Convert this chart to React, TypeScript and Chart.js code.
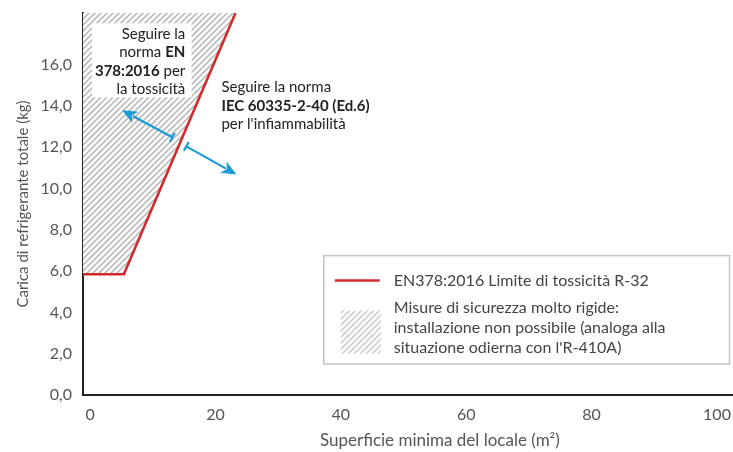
import React, { useEffect, useRef } from "react";
import { Chart, registerables } from "chart.js";

Chart.register(...registerables);

// ---- data ----
const X_MIN = -1.12;
const X_MAX = 102.55;
const Y_MIN = 0;
const Y_MAX = 18.5;
const xTickValues = [0, 20, 40, 60, 80, 100];
const yTickValues = [0, 2, 4, 6, 8, 10, 12, 14, 16];
const limitX = [X_MIN, 5.4, 23.2];
const limitY = [5.85, 5.85, 18.5];

const seriesLabel = "EN378:2016 Limite di tossicità R-32";
const hatchLabel = [
  "Misure di sicurezza molto rigide:",
  "installazione non possibile (analoga alla",
  "situazione odierna con l'R-410A)",
];
const xTitle = "Superficie minima del locale (m²)";
const yTitle = "Carica di refrigerante totale (kg)";

type Part = { t: string; b?: boolean };
const note1: Part[][] = [
  [{ t: "Seguire la" }],
  [{ t: "norma " }, { t: "EN", b: true }],
  [{ t: "378:2016", b: true }, { t: " per" }],
  [{ t: "la tossicità" }],
];
const note2: Part[][] = [
  [{ t: "Seguire la norma" }],
  [{ t: "IEC 60335-2-40 (Ed.6)", b: true }],
  [{ t: "per l'infiammabilità" }],
];

const FONT = "Lato, 'Open Sans', sans-serif";
const RED = "#d42a2c";
const BLUE = "#1b9ad8";

function makePattern(color: string): CanvasPattern | string {
  const c = document.createElement("canvas");
  c.width = 6;
  c.height = 6;
  const g = c.getContext("2d");
  if (!g) return "#ddd";
  g.fillStyle = "#ffffff";
  g.fillRect(0, 0, 6, 6);
  g.strokeStyle = color;
  g.lineWidth = 1.7;
  g.beginPath();
  g.moveTo(-1, 7);
  g.lineTo(7, -1);
  g.moveTo(-4, 4);
  g.lineTo(4, -4);
  g.moveTo(2, 10);
  g.lineTo(10, 2);
  g.stroke();
  const p = g.createPattern(c, "repeat");
  return p || "#ddd";
}

function drawRich(
  ctx: CanvasRenderingContext2D,
  parts: Part[],
  x: number,
  y: number,
  align: "left" | "right",
  size: number,
  color: string
) {
  ctx.save();
  ctx.textBaseline = "middle";
  ctx.textAlign = "left";
  ctx.fillStyle = color;
  const fonts = parts.map((p) => `${p.b ? "bold " : ""}${size}px ${FONT}`);
  const widths = parts.map((p, i) => {
    ctx.font = fonts[i];
    return ctx.measureText(p.t).width;
  });
  const total = widths.reduce((a, b) => a + b, 0);
  let cx = align === "right" ? x - total : x;
  parts.forEach((p, i) => {
    ctx.font = fonts[i];
    ctx.fillText(p.t, cx, y);
    cx += widths[i];
  });
  ctx.restore();
}

function drawArrow(
  ctx: CanvasRenderingContext2D,
  x1: number,
  y1: number,
  x2: number,
  y2: number
) {
  const dx = x2 - x1;
  const dy = y2 - y1;
  const len = Math.hypot(dx, dy);
  const ux = dx / len;
  const uy = dy / len;
  const px = -uy;
  const py = ux;
  const headL = 15;
  const headW = 6.5;
  ctx.save();
  ctx.strokeStyle = BLUE;
  ctx.fillStyle = BLUE;
  ctx.lineWidth = 2.2;
  ctx.lineCap = "butt";
  ctx.beginPath();
  ctx.moveTo(x1 + px * 5, y1 + py * 5);
  ctx.lineTo(x1 - px * 5, y1 - py * 5);
  ctx.stroke();
  ctx.beginPath();
  ctx.moveTo(x1, y1);
  ctx.lineTo(x2 - ux * (headL - 3), y2 - uy * (headL - 3));
  ctx.stroke();
  const bx = x2 - ux * headL;
  const by = y2 - uy * headL;
  ctx.beginPath();
  ctx.moveTo(x2, y2);
  ctx.lineTo(bx + px * headW, by + py * headW);
  ctx.lineTo(x2 - ux * (headL - 4), y2 - uy * (headL - 4));
  ctx.lineTo(bx - px * headW, by - py * headW);
  ctx.closePath();
  ctx.fill();
  ctx.restore();
}

export default function App() {
  const ref = useRef<HTMLCanvasElement>(null);

  useEffect(() => {
    if (!ref.current) return;
    const hatch = makePattern("#bdbdbd");
    const hatchLight = makePattern("#cfcfcf");

    const annotations = {
      id: "annotations",
      afterDraw(chart: any) {
        const ctx: CanvasRenderingContext2D = chart.ctx;
        const xs = chart.scales.x;
        const ys = chart.scales.y;
        const X = (v: number) => xs.getPixelForValue(v);
        const Y = (v: number) => ys.getPixelForValue(v);

        ctx.save();
        ctx.fillStyle = "#ffffff";
        const bx0 = X(0.32);
        const bx1 = X(16.2);
        const by0 = Y(18.0);
        const by1 = Y(14.42);
        ctx.fillRect(bx0, by0, bx1 - bx0, by1 - by0);
        ctx.restore();

        const tx1 = X(15.2);
        const ty1 = Y(17.48);
        note1.forEach((line, i) =>
          drawRich(ctx, line, tx1, ty1 + i * 18.4, "right", 15, "#222")
        );
        const tx2 = X(20.96);
        const ty2 = Y(14.9);
        note2.forEach((line, i) =>
          drawRich(ctx, line, tx2, ty2 + i * 18.4, "left", 15, "#222")
        );

        drawArrow(ctx, X(13.12), Y(12.48), X(5.12), Y(13.79));
        drawArrow(ctx, X(15.36), Y(12.04), X(23.36), Y(10.68));

        // x axis title (offset to the right as in the original)
        ctx.save();
        ctx.fillStyle = "#555";
        ctx.font = `17px ${FONT}`;
        ctx.textAlign = "center";
        ctx.textBaseline = "middle";
        ctx.fillText(xTitle, X(55.8), chart.chartArea.bottom + 46);
        ctx.restore();

        // legend
        const lx0 = X(37.28);
        const lx1 = X(102.0);
        const ly0 = Y(6.75);
        const ly1 = Y(1.5);
        ctx.save();
        ctx.fillStyle = "#ffffff";
        ctx.fillRect(lx0, ly0, lx1 - lx0, ly1 - ly0);
        ctx.strokeStyle = "#c8c4bc";
        ctx.lineWidth = 1.5;
        ctx.strokeRect(lx0, ly0, lx1 - lx0, ly1 - ly0);

        ctx.strokeStyle = RED;
        ctx.lineWidth = 2.5;
        ctx.beginPath();
        ctx.moveTo(lx0 + 11, ly0 + 25);
        ctx.lineTo(lx0 + 56, ly0 + 25);
        ctx.stroke();

        ctx.fillStyle = "#444";
        ctx.font = `16px ${FONT}`;
        ctx.textBaseline = "middle";
        ctx.textAlign = "left";
        ctx.fillText(seriesLabel, lx0 + 70, ly0 + 25);

        ctx.fillStyle = hatchLight as any;
        ctx.fillRect(lx0 + 17, ly0 + 55, 40, 43);

        ctx.fillStyle = "#444";
        hatchLabel.forEach((t, i) => {
          ctx.fillText(t, lx0 + 70, ly0 + 52 + i * 20);
        });
        ctx.restore();
      },
    };

    const tickFont = { family: FONT, size: 16 };
    const chart = new Chart(ref.current, {
      type: "line",
      data: {
        datasets: [
          {
            label: seriesLabel,
            data: limitX.map((x, i) => ({ x, y: limitY[i] })),
            borderColor: RED,
            borderWidth: 2.6,
            pointRadius: 0,
            tension: 0,
            fill: "end",
            backgroundColor: hatch as any,
          },
        ],
      },
      options: {
        animation: false,
        responsive: false,
        devicePixelRatio: 1,
        layout: { padding: { top: 13, right: 0, left: 0, bottom: 0 } },
        plugins: {
          legend: { display: false },
          tooltip: { enabled: false },
        },
        scales: {
          x: {
            type: "linear",
            min: X_MIN,
            max: X_MAX,
            afterBuildTicks: (s: any) => {
              s.ticks = xTickValues.map((v) => ({ value: v }));
            },
            afterFit: (s: any) => {
              s.height = 57;
              s.paddingLeft = 0;
              s.paddingRight = 0;
            },
            ticks: {
              font: tickFont,
              color: "#555",
              padding: 10,
              maxRotation: 0,
              autoSkip: false,
            },
            grid: { display: true, color: "rgba(0,0,0,0)", drawTicks: false },
            border: { display: true, color: "#222", width: 2 },
            title: { display: false, text: xTitle },
          },
          y: {
            type: "linear",
            min: Y_MIN,
            max: Y_MAX,
            afterBuildTicks: (s: any) => {
              s.ticks = yTickValues.map((v) => ({ value: v }));
            },
            afterFit: (s: any) => {
              s.width = 83;
              s.paddingTop = 0;
              s.paddingBottom = 0;
            },
            ticks: {
              font: tickFont,
              color: "#555",
              padding: 11,
              autoSkip: false,
              callback: (v: any) => Number(v).toFixed(1).replace(".", ","),
            },
            grid: { display: true, color: "rgba(0,0,0,0)", drawTicks: false },
            border: { display: true, color: "#222", width: 2 },
            title: {
              display: true,
              text: yTitle,
              font: { family: FONT, size: 15 },
              color: "#555",
              padding: { top: 14, bottom: 0 },
            },
          },
        },
      },
      plugins: [annotations],
    });
    return () => chart.destroy();
  }, []);

  return (
    <div style={{ position: "absolute", left: 0, top: 0, width: 733, height: 452 }}>
      <canvas ref={ref} width={733} height={452} />
    </div>
  );
}
